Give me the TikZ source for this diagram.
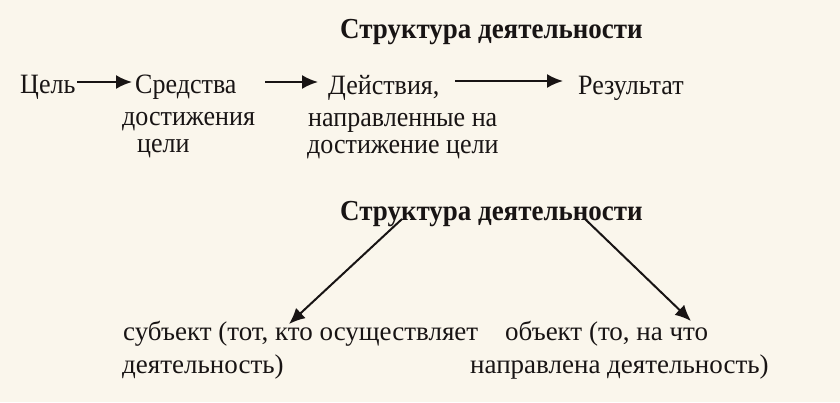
\documentclass[tikz,border=0pt]{standalone}
\usepackage{fontspec}
\setmainfont{Liberation Serif}
\newfontfamily\narrowserif[FakeStretch=0.93]{Liberation Serif}
\usetikzlibrary{arrows.meta}
\definecolor{paper}{RGB}{250,246,236}
\definecolor{ink}{RGB}{24,20,20}
\tikzset{
  txt/.style={anchor=base west, inner sep=0pt, text=ink, font=\fontsize{27}{30}\selectfont},
  toptxt/.style={anchor=base west, inner sep=0pt, text=ink, font=\narrowserif\fontsize{28}{30}\selectfont},
  ttl/.style={anchor=base west, inner sep=0pt, text=ink, font=\narrowserif\fontsize{29}{30}\selectfont\bfseries},
  arr/.style={draw=ink, line width=2pt, -{Latex[length=16pt,width=14pt]}}
}
\begin{document}
\begin{tikzpicture}[x=1pt,y=-1pt]
\fill[paper] (0,0) rectangle (840,402);
\useasboundingbox (0,0) rectangle (840,402);
% top title
\node[ttl] (t1) at (340,38) {Структура деятельности};
% top row
\node[toptxt] (cel) at (20,93) {Цель};
\node[toptxt] (sr1) at (135,93) {Средства};
\node[toptxt] (sr2) at (122,125) {достижения};
\node[toptxt] (sr3) at (137,152) {цели};
\node[toptxt] (de1) at (328,94) {Действия,};
\node[toptxt] (de2) at (308,126) {направленные на};
\node[toptxt] (de3) at (307,153) {достижение цели};
\node[toptxt] (res) at (578,94) {Результат};
\coordinate (a1s) at (77,82);  \coordinate (a1e) at (132,82);
\coordinate (a2s) at (265,82); \coordinate (a2e) at (318,82);
\coordinate (a3s) at (455,81); \coordinate (a3e) at (563,81);
\draw[arr] (a1s) -- (a1e);
\draw[arr] (a2s) -- (a2e);
\draw[arr] (a3s) -- (a3e);
% second title
\node[ttl] (t2) at (340,220) {Структура деятельности};
\node[txt] (su1) at (123,340) {субъект (тот, кто осуществляет};
\node[txt] (su2) at (122,373) {деятельность)};
\node[txt] (ob1) at (505,340) {объект (то, на что};
\node[txt] (ob2) at (470,373) {направлена деятельность)};
\coordinate (b1s) at (402,219); \coordinate (b1e) at (289,324);
\coordinate (b2s) at (585,219); \coordinate (b2e) at (691,321);
\draw[arr] (b1s) -- (b1e);
\draw[arr] (b2s) -- (b2e);
\end{tikzpicture}
\end{document}
